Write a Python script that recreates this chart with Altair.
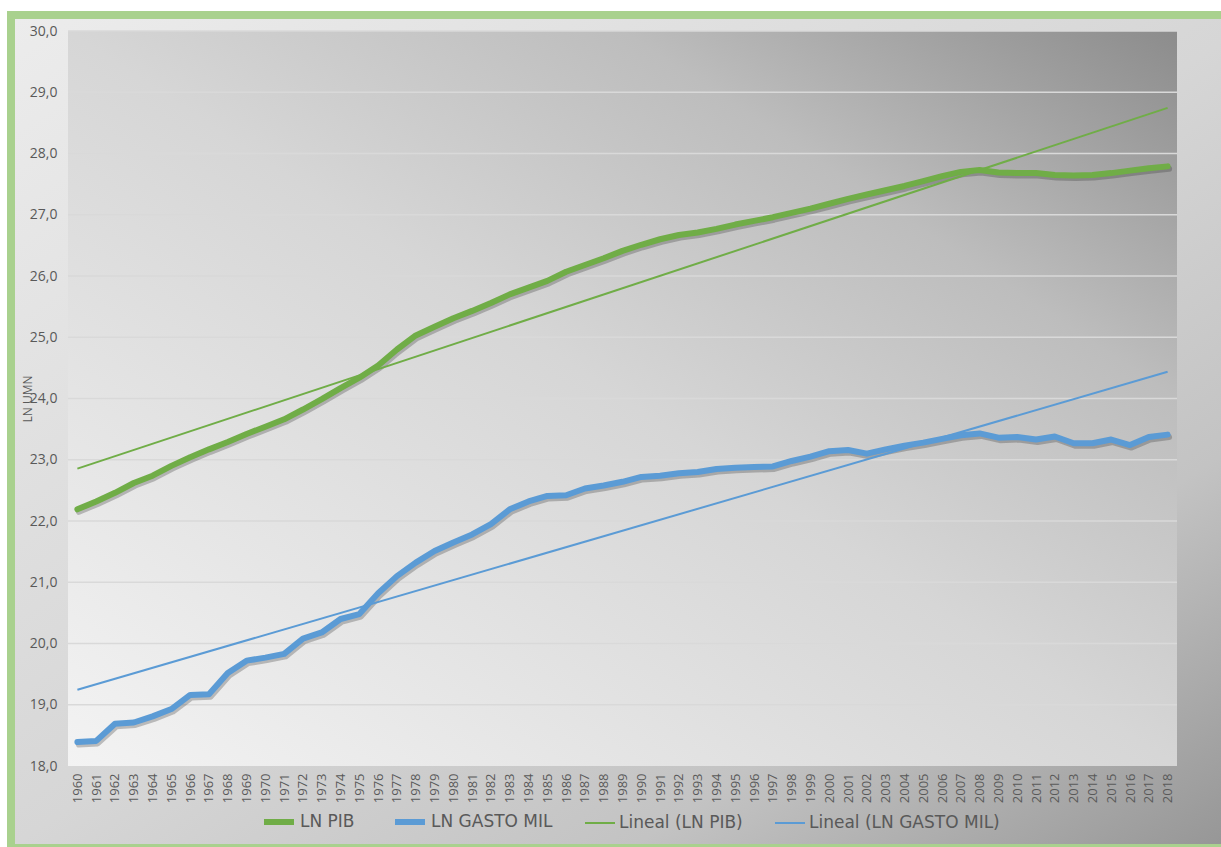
import altair as alt
import pandas as pd

# ---------------- data ----------------
anios = list(range(1960, 2019))

ln_pib = [22.19, 22.32, 22.46, 22.62, 22.74, 22.90, 23.04, 23.17, 23.29, 23.42,
          23.54, 23.66, 23.82, 23.99, 24.17, 24.34, 24.54, 24.80, 25.03, 25.17,
          25.31, 25.43, 25.56, 25.70, 25.81, 25.92, 26.07, 26.18, 26.29, 26.41,
          26.51, 26.60, 26.67, 26.71, 26.77, 26.84, 26.90, 26.96, 27.03, 27.10,
          27.18, 27.26, 27.33, 27.40, 27.47, 27.55, 27.63, 27.70, 27.73, 27.69,
          27.68, 27.68, 27.65, 27.64, 27.65, 27.68, 27.72, 27.76, 27.79]

ln_gasto = [18.39, 18.41, 18.69, 18.71, 18.81, 18.93, 19.16, 19.17, 19.52, 19.72,
            19.77, 19.83, 20.08, 20.18, 20.40, 20.48, 20.82, 21.10, 21.32, 21.51,
            21.65, 21.78, 21.95, 22.19, 22.32, 22.41, 22.42, 22.53, 22.58, 22.64,
            22.72, 22.74, 22.78, 22.80, 22.85, 22.87, 22.88, 22.89, 22.98, 23.05,
            23.14, 23.16, 23.10, 23.17, 23.23, 23.28, 23.34, 23.40, 23.43, 23.36,
            23.37, 23.33, 23.38, 23.27, 23.27, 23.33, 23.24, 23.37, 23.41]

series = ["LN PIB", "LN GASTO MIL"]
leyenda = ["LN PIB", "LN GASTO MIL", "Lineal (LN PIB)", "Lineal (LN GASTO MIL)"]
colores = ["#70AD47", "#5B9BD5", "#70AD47", "#5B9BD5"]
grosores = [6, 6, 2, 2]
y_ticks = [18, 19, 20, 21, 22, 23, 24, 25, 26, 27, 28, 29, 30]

df = pd.DataFrame({
    "anio": anios * 2,
    "valor": ln_pib + ln_gasto,
    "serie": [series[0]] * len(anios) + [series[1]] * len(anios),
})
grid_df = pd.DataFrame({"valor": y_ticks[1:]})

W, H = 1109, 735
PAD = {"left": 68, "top": 31, "right": 44, "bottom": 81}

FONT = "Open Sans"
TXT = "#595959"

x_scale = alt.Scale(type="point", padding=0.5)
y_scale = alt.Scale(domain=[18, 30], nice=False, zero=False)

x_axis = alt.Axis(
    title=None, labelAngle=-90, labelFont=FONT, labelFontSize=13,
    labelColor=TXT, labelPadding=7, ticks=False, domain=False, grid=False,
    labelOverlap=False, zindex=2,
)
y_axis = alt.Axis(
    values=y_ticks,
    labelExpr="replace(format(datum.value, '.1f'), '.', ',')",
    title="LN UMN", titleFont=FONT, titleFontSize=12, titleFontWeight="normal",
    titleColor=TXT, titleX=-41, titleY=H / 2, titleAngle=270,
    titleAlign="center", titleBaseline="middle",
    labelFont=FONT, labelFontSize=14, labelColor=TXT, labelPadding=11,
    ticks=False, domain=False, grid=False, zindex=2,
)

leg = alt.Legend(
    title=None, orient="none", legendX=193, legendY=773,
    direction="horizontal", symbolType="stroke", symbolSize=900,
    labelFont="DejaVu Sans", labelFontSize=17, labelColor=TXT,
    labelLimit=400, columnPadding=28, labelOffset=3, zindex=2,
)
color_enc = alt.Color("serie:N", scale=alt.Scale(domain=leyenda, range=colores), legend=leg)
sw_enc = alt.StrokeWidth(
    "serie:N", scale=alt.Scale(type="ordinal", domain=leyenda, range=grosores), legend=leg
)

X = alt.X("anio:O", scale=x_scale, axis=x_axis)
Y = alt.Y("valor:Q", scale=y_scale, axis=y_axis)

one = alt.Data(values=[{}])

# outer frame (green border + outer gradient)
frame = alt.Chart(one).mark_rect(fill="#A9D18E").encode(
    x=alt.value(-61), x2=alt.value(W + 80),
    y=alt.value(-20), y2=alt.value(H + 100),
)
outer_bg = alt.Chart(one).mark_rect(
    fill=alt.Gradient(
        gradient="linear", x1=0, y1=0, x2=1, y2=1,
        stops=[
            alt.GradientStop(offset=0, color="#ECECEC"),
            alt.GradientStop(offset=0.5, color="#D6D6D6"),
            alt.GradientStop(offset=0.75, color="#C3C3C3"),
            alt.GradientStop(offset=1, color="#949494"),
        ],
    )
).encode(
    x=alt.value(-53), x2=alt.value(W + 80),
    y=alt.value(-12), y2=alt.value(H + 78),
)
plot_bg = alt.Chart(one).mark_rect(
    fill=alt.Gradient(
        gradient="linear", x1=0, y1=1, x2=1, y2=0,
        stops=[
            alt.GradientStop(offset=0, color="#F3F3F3"),
            alt.GradientStop(offset=0.5, color="#D6D6D6"),
            alt.GradientStop(offset=0.75, color="#BDBDBD"),
            alt.GradientStop(offset=1, color="#8C8C8C"),
        ],
    )
).encode(
    x=alt.value(0), x2=alt.value(W),
    y=alt.value(0), y2=alt.value(H),
)

grid = alt.Chart(grid_df).mark_rule(color="#D9D9D9", strokeWidth=1.5).encode(
    y=Y, x=alt.value(0), x2=alt.value(W),
)

base = alt.Chart(df)

shadow = base.mark_line(
    stroke="#303030", opacity=0.28, strokeWidth=6, xOffset=1.5, yOffset=2.5,
    strokeJoin="round", strokeCap="round",
).encode(x=X, y=Y, detail="serie:N")

trend = base.transform_regression(
    "anio", "valor", groupby=["serie"]
).transform_calculate(
    serie="'Lineal (' + datum.serie + ')'"
).mark_line().encode(x=X, y=Y, color=color_enc, strokeWidth=sw_enc)

lines = base.mark_line(strokeJoin="round", strokeCap="round").encode(
    x=X, y=Y, color=color_enc, strokeWidth=sw_enc,
)

chart = alt.layer(
    frame, outer_bg, plot_bg, grid, shadow, trend, lines
).properties(
    width=W, height=H,
    autosize=alt.AutoSizeParams(type="none"),
    padding=PAD,
    background="white",
).configure_view(stroke=None).configure(font=FONT)

chart.save("out.html", embed_options={"renderer": "svg", "actions": False})
